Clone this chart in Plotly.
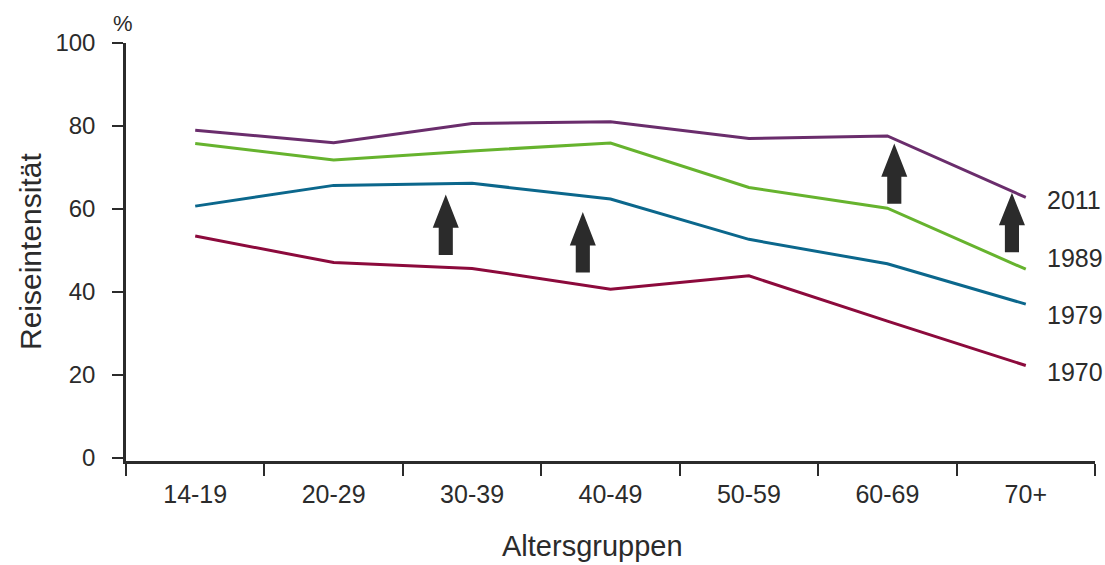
import plotly.graph_objects as go

# Age groups on the x axis
altersgruppen = ["14-19", "20-29", "30-39", "40-49", "50-59", "60-69", "70+"]

# Travel intensity (%) per survey year
werte_1970 = [53.5, 47.1, 45.7, 40.7, 43.9, 33.0, 22.3]
werte_1979 = [60.7, 65.7, 66.2, 62.4, 52.7, 46.8, 37.1]
werte_1989 = [75.8, 71.8, 74.0, 75.9, 65.2, 60.2, 45.5]
werte_2011 = [79.0, 76.0, 80.6, 81.0, 77.0, 77.6, 62.8]

y_ticks = [0, 20, 40, 60, 80, 100]

serien = [
    ("1970", werte_1970, "#8c0a3c", 20.8),
    ("1979", werte_1979, "#0b678c", 34.5),
    ("1989", werte_1989, "#66b32e", 48.2),
    ("2011", werte_2011, "#6a2d6c", 62.1),
]

TEXT = "#2b2b2b"
FONT = "Liberation Sans, Arial, sans-serif"

fig = go.Figure()
for name, werte, farbe, _ in serien:
    fig.add_trace(go.Scatter(
        x=altersgruppen, y=werte, mode="lines", name=name,
        line=dict(color=farbe, width=3), hoverinfo="x+y+name",
    ))

# Block arrows marking the increase between survey years
# (centre x in category units, tip y, head base y, shaft bottom y)
pfeile = [
    (1.81, 63.5, 55.5, 48.9),
    (2.80, 59.3, 51.2, 44.7),
    (5.05, 75.8, 67.8, 61.3),
    (5.90, 63.9, 56.1, 49.6),
]
kopf = 0.094   # half head width (category units)
schaft = 0.051  # half shaft width
for cx, tip, base, bottom in pfeile:
    path = (
        f"M {cx - schaft} {bottom} L {cx - schaft} {base} L {cx - kopf} {base} "
        f"L {cx} {tip} L {cx + kopf} {base} L {cx + schaft} {base} "
        f"L {cx + schaft} {bottom} Z"
    )
    fig.add_shape(type="path", path=path, xref="x", yref="y",
                  fillcolor=TEXT, line=dict(width=0), layer="above")

annotations = []
for name, _, farbe, ylab in serien:
    annotations.append(dict(
        x=6, y=ylab, xref="x", yref="y", text=name, showarrow=False,
        xanchor="left", yanchor="middle", xshift=19,
        font=dict(size=25, color=TEXT, family=FONT),
    ))
annotations += [
    dict(x=0, y=1, xref="paper", yref="paper", text="%", showarrow=False,
         xanchor="center", yanchor="middle", xshift=-3, yshift=20,
         font=dict(size=22, color=TEXT, family=FONT)),
    dict(x=0, y=0.5, xref="paper", yref="paper", text="Reiseintensität",
         showarrow=False, textangle=-90, xanchor="center", yanchor="middle",
         xshift=-96, font=dict(size=30, color=TEXT, family=FONT)),
    dict(x=0.481, y=0, xref="paper", yref="paper", text="Altersgruppen",
         showarrow=False, xanchor="center", yanchor="middle", yshift=-85,
         font=dict(size=29, color=TEXT, family=FONT)),
]

fig.update_layout(
    width=1105, height=565,
    margin=dict(l=126, r=10, t=42.5, b=103.5),
    paper_bgcolor="white", plot_bgcolor="white",
    showlegend=False,
    font=dict(family=FONT, color=TEXT),
    annotations=annotations,
)
fig.update_xaxes(
    type="category", range=[-0.5, 6.5], tickson="boundaries",
    showline=True, linecolor=TEXT, linewidth=2.5,
    ticks="outside", ticklen=12, tickwidth=2, tickcolor=TEXT,
    showgrid=False, zeroline=False, ticklabelstandoff=9,
    tickfont=dict(size=25, color=TEXT, family=FONT),
)
fig.update_yaxes(
    range=[-0.7, 100], tickvals=y_ticks,
    showline=True, linecolor=TEXT, linewidth=2.5,
    ticks="outside", ticklen=11, tickwidth=2, tickcolor=TEXT,
    showgrid=False, zeroline=False, ticklabelstandoff=12,
    tickfont=dict(size=24, color=TEXT, family=FONT),
)

fig.write_html("out.html")
